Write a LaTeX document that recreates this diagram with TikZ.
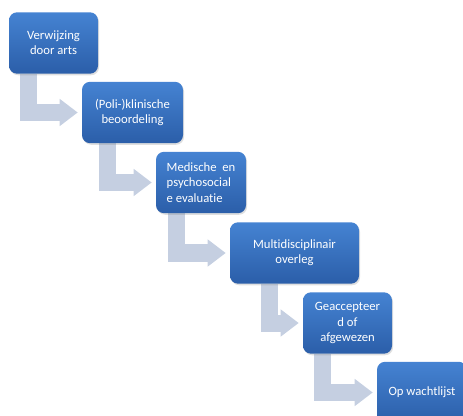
\documentclass[tikz,border=0pt]{standalone}
\usepackage{fontspec}
\setmainfont[Ligatures={NoCommon,NoContextual}]{Carlito}
\usepackage{tikz}
\usetikzlibrary{arrows.meta,shadows,backgrounds}

\definecolor{stapTop}{HTML}{4583D2}
\definecolor{stapBot}{HTML}{2B5EA9}
\definecolor{pijlGrijs}{HTML}{C5CFE1}

\tikzset{
  stap/.style={draw=none, rounded corners=6pt, top color=stapTop, bottom color=stapBot,
    minimum width=67.5pt, minimum height=46pt, inner sep=2pt, text=white,
    font=\fontsize{9.5}{11.5}\selectfont, align=center,
    drop shadow={shadow xshift=0.8pt, shadow yshift=-1.2pt, opacity=0.25}},
  pijl/.style={draw=pijlGrijs, line width=12.75pt, shorten >=3pt,
    -{Triangle[length=13.5pt,width=19.5pt]}}
}

\begin{document}
\begin{tikzpicture}[x=0.75pt,y=0.75pt,yscale=-1,xscale=1]
\useasboundingbox (0,0) rectangle (463,416);

% Stappen
\node[stap, minimum width=66.75pt] (verwijzing) at (53.5,43) {Verwijzing\\door arts};
\node[stap, minimum width=75.75pt] (klinisch) at (132.5,112.5) {(Poli-)klinische\\beoordeling};
\node[stap, align=left] (evaluatie) at (201,182.5) {Medische\ \ en\\psychosocial\\e evaluatie};
\node[stap, minimum width=96.75pt] (overleg) at (294.5,253) {Multidisciplinair\\overleg};
\node[stap, minimum width=66.75pt] (besluit) at (347.5,323) {Geaccepteer\\d of\\afgewezen};
\node[stap] (wachtlijst) at (422,392.5) {Op wachtlijst};

% Pijlen
\begin{scope}[on background layer]
\draw[pijl] ([xshift=-18.75pt]verwijzing.south) |- (klinisch.west);
\draw[pijl] ([xshift=-18.75pt]klinisch.south) |- (evaluatie.west);
\draw[pijl] ([xshift=-18.75pt]evaluatie.south) |- (overleg.west);
\draw[pijl] ([xshift=-18.75pt]overleg.south) |- (besluit.west);
\draw[pijl] ([xshift=-18.75pt]besluit.south) |- (wachtlijst.west);
\end{scope}

\end{tikzpicture}
\end{document}
